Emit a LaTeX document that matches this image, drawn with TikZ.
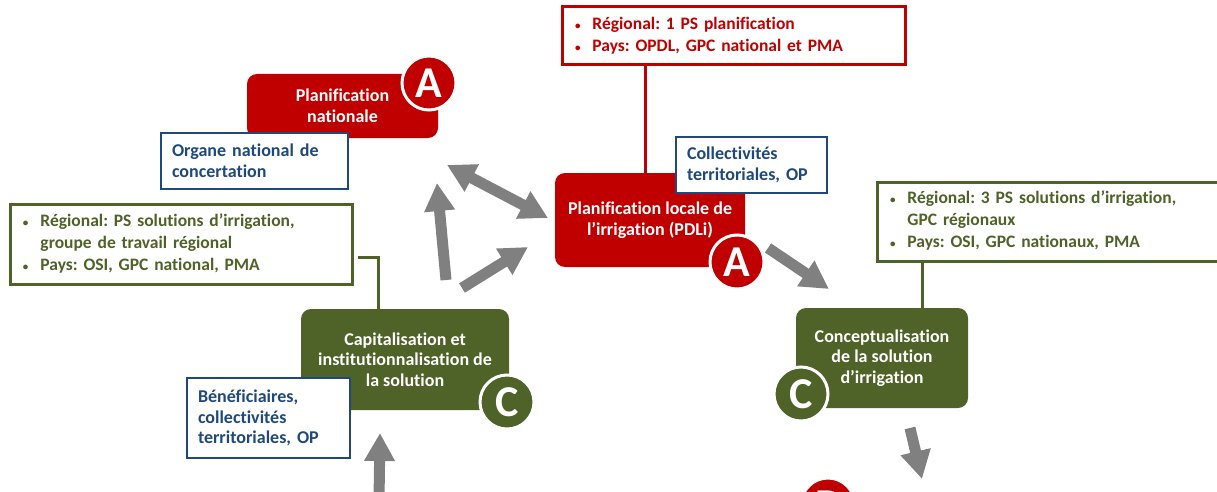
\documentclass[tikz,border=0pt]{standalone}
\usepackage{fontspec}
\setmainfont{Carlito}[Ligatures={NoCommon}]
\frenchspacing
\usetikzlibrary{arrows.meta}
\definecolor{pdred}{RGB}{192,0,0}
\definecolor{pdgreen}{RGB}{79,98,40}
\definecolor{pdblue}{RGB}{31,73,125}
\definecolor{pdgray}{RGB}{128,128,128}
\newcommand{\puce}{{\fontsize{11}{11}\selectfont\textbullet}}

\begin{document}
\begin{tikzpicture}[x=1pt,y=-1pt,
  every node/.style={font=\bfseries\fontsize{18}{20.5}\selectfont},
  phasebox/.style={fill=#1, text=white, rounded corners=10pt, align=center, inner sep=0pt},
  actorbox/.style={draw=pdblue, line width=2.5pt, fill=white, text=pdblue, align=left, inner xsep=11pt, inner ysep=0pt},
  listbox/.style={draw=#1, line width=3pt, fill=white, text=#1, align=left, inner xsep=13pt, inner ysep=0pt,
    font=\bfseries\fontsize{17.5}{22}\selectfont},
  letter/.style={circle, fill=#1, draw=white, line width=3pt, minimum size=54pt, inner sep=0pt, text=white,
    font=\bfseries\fontsize{44}{44}\selectfont},
  link/.style={draw=#1, line width=3pt},
  flow/.style={draw=pdgray, line width=11pt, -{Triangle[length=28pt,width=29pt]}}]

\clip (0,0) rectangle (1217,492);

% listes des acteurs
\node[listbox=pdred, minimum width=343pt, minimum height=58pt, text width=317pt] (rtop) at (733.5,36)
  {\begin{tabular}{@{}l@{\hspace{12pt}}l@{}}
   \puce & Régional: 1 PS planification\\
   \puce & Pays: OPDL, GPC national et PMA
   \end{tabular}};
\node[listbox=pdgreen, minimum width=342pt, minimum height=80pt, text width=316pt] (lgreen) at (181,244)
  {\begin{tabular}{@{}l@{\hspace{12pt}}l@{}}
   \puce & Régional: PS solutions d’irrigation,\\
         & groupe de travail régional\\
   \puce & Pays: OSI, GPC national,  PMA
   \end{tabular}};
\node[listbox=pdgreen, minimum width=360pt, minimum height=79pt, text width=334pt] (rgreen) at (1057,221.5)
  {\begin{tabular}{@{}l@{\hspace{12pt}}l@{}}
   \puce & Régional: 3 PS solutions d’irrigation,\\
         & GPC régionaux\\
   \puce & Pays: OSI, GPC nationaux,  PMA
   \end{tabular}};

% etapes
\node[phasebox=pdred, minimum width=191pt, minimum height=64pt] (plannat) at (342.5,106) {Planification\\nationale};
\node[phasebox=pdred, minimum width=190pt, minimum height=94pt] (pdli) at (650,220) {Planification locale de\\l’irrigation (PDLi)};
\node[phasebox=pdgreen, minimum width=172pt, minimum height=100pt] (concept) at (882,358) {Conceptualisation\\de la solution\\d’irrigation};
\node[phasebox=pdgreen, minimum width=208pt, minimum height=101pt] (capit) at (405,359.5) {Capitalisation et\\institutionnalisation de\\la solution};

% liens
\draw[link=pdred] ([xshift=-5pt]pdli.north) -- ([xshift=-5pt]pdli.north |- rtop.south);
\draw[link=pdgreen] ([xshift=40pt]concept.north) -- ([xshift=40pt]concept.north |- rgreen.south);
\draw[link=pdgreen] ([xshift=4pt,yshift=-13pt]lgreen.east) -| ([xshift=-27pt]capit.north);

% beneficiaires
\node[actorbox, minimum height=56pt, text width=165pt] (orgnat) at (254.5,161) {Organe national de\\concertation};
\node[actorbox, minimum height=56pt, text width=129pt] (colter) at (751.5,165) {Collectivités\\territoriales, OP};
\node[actorbox, minimum height=80pt, text width=141pt] (benef) at (268.5,418) {Bénéficiaires,\\collectivités\\territoriales, OP};

% lettres
\node[letter=pdred] (circA1) at (429,83) {A};
\node[letter=pdred] (circA2) at (737,262) {A};
\node[letter=pdgreen] (circC1) at (507,402) {C};
\node[letter=pdgreen] (circC2) at (801,394) {C};
\node[letter=pdred] (circB) at (828,505) {B};

% fleches
\coordinate (f1a) at (447,165); \coordinate (f1b) at (548,218);
\coordinate (f2a) at (446,280); \coordinate (f2b) at (437,183);
\coordinate (f3a) at (462,288); \coordinate (f3b) at (528,247);
\coordinate (f4a) at (768,248); \coordinate (f4b) at (829,289);
\coordinate (f5a) at (910,428); \coordinate (f5b) at (922,479);
\coordinate (f6a) at (379,500); \coordinate (f6b) at (380,433);
\draw[flow, {Triangle[length=28pt,width=29pt]}-{Triangle[length=28pt,width=29pt]}] (f1a) -- (f1b);
\draw[flow] (f2a) -- (f2b);
\draw[flow] (f3a) -- (f3b);
\draw[flow] (f4a) -- (f4b);
\draw[flow] (f5a) -- (f5b);
\draw[flow] (f6a) -- (f6b);

\end{tikzpicture}
\end{document}
